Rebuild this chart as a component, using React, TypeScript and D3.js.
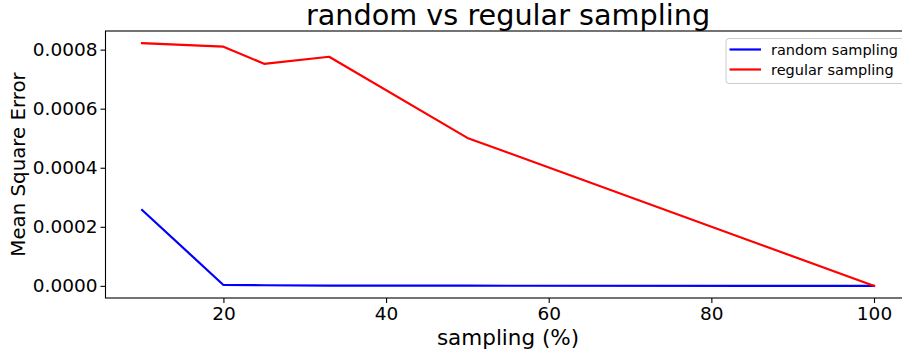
import React, { useEffect, useRef } from "react";
import * as d3 from "d3";

// Sampling rates (%) and the mean square error of each reconstruction
const samplingPct = [10, 20, 25, 33, 50, 100];
const randomMSE = [0.000257, 0.000003, 0.000002, 0.000001, 0.0000005, 0];
const regularMSE = [0.000822, 0.00081, 0.000752, 0.000776, 0.000501, 0];

const xTicks = [20, 40, 60, 80, 100];
const yTicks = [0, 0.0002, 0.0004, 0.0006, 0.0008];

const seriesNames = ["random sampling", "regular sampling"];
const seriesColors = ["#0000ff", "#ff0000"];

const W = 902;
const H = 353;
const FONT = "DejaVu Sans, sans-serif";

export default function App() {
  const ref = useRef<SVGSVGElement | null>(null);

  useEffect(() => {
    const svg = d3.select(ref.current);
    svg.selectAll("*").remove();

    const left = 105.5;
    const right = 910.6;
    const top = 31;
    const bottom = 298;

    const xMin = d3.min(samplingPct)!;
    const xMax = d3.max(samplingPct)!;
    const xPad = (xMax - xMin) * 0.05;
    const yAll = [...randomMSE, ...regularMSE];
    const yMin = d3.min(yAll)!;
    const yMax = d3.max(yAll)!;
    const yPad = (yMax - yMin) * 0.05;

    const x = d3.scaleLinear().domain([xMin - xPad, xMax + xPad]).range([left, right]);
    const y = d3.scaleLinear().domain([yMin - yPad, yMax + yPad]).range([bottom, top]);

    const g = svg.append("g");

    // series lines
    const series = [randomMSE, regularMSE];
    series.forEach((vals, i) => {
      const line = d3
        .line<number>()
        .x((_, j) => x(samplingPct[j]))
        .y((d) => y(d));
      g.append("path")
        .datum(vals)
        .attr("d", line)
        .attr("fill", "none")
        .attr("stroke", seriesColors[i])
        .attr("stroke-width", 2.2)
        .attr("stroke-linejoin", "round")
        .attr("stroke-linecap", "square");
    });

    // spines
    g.append("rect")
      .attr("x", left)
      .attr("y", top)
      .attr("width", right - left)
      .attr("height", bottom - top)
      .attr("fill", "none")
      .attr("stroke", "#000")
      .attr("stroke-width", 1.1);

    // x axis
    const xAxis = d3
      .axisBottom(x)
      .tickValues(xTicks)
      .tickSize(5)
      .tickPadding(3.5)
      .tickFormat((d) => String(d));
    const gx = g.append("g").attr("transform", `translate(0,${bottom})`).call(xAxis);
    gx.select(".domain").remove();
    gx.selectAll("line").attr("stroke", "#000").attr("stroke-width", 1.1);
    gx.selectAll("text")
      .attr("font-family", FONT)
      .attr("font-size", 18.5)
      .attr("fill", "#000");

    // y axis
    const yAxis = d3
      .axisLeft(y)
      .tickValues(yTicks)
      .tickSize(5)
      .tickPadding(3)
      .tickFormat(d3.format(".4f"));
    const gy = g.append("g").attr("transform", `translate(${left},0)`).call(yAxis);
    gy.select(".domain").remove();
    gy.selectAll("line").attr("stroke", "#000").attr("stroke-width", 1.1);
    gy.selectAll("text")
      .attr("font-family", FONT)
      .attr("font-size", 18.5)
      .attr("fill", "#000");

    // title and axis labels
    const cx = (left + right) / 2;
    svg.append("text")
      .attr("x", cx)
      .attr("y", 25)
      .attr("text-anchor", "middle")
      .attr("font-family", FONT)
      .attr("font-size", 28.7)
      .text("random vs regular sampling");

    svg.append("text")
      .attr("x", cx)
      .attr("y", 345)
      .attr("text-anchor", "middle")
      .attr("font-family", FONT)
      .attr("font-size", 21.5)
      .text("sampling (%)");

    svg.append("text")
      .attr("transform", `translate(25,${(top + bottom) / 2}) rotate(-90)`)
      .attr("text-anchor", "middle")
      .attr("font-family", FONT)
      .attr("font-size", 19.8)
      .text("Mean Square Error");

    // legend
    const lg = svg.append("g");
    lg.append("rect")
      .attr("x", 726)
      .attr("y", 38.5)
      .attr("width", 178)
      .attr("height", 45)
      .attr("rx", 3)
      .attr("fill", "#fff")
      .attr("fill-opacity", 0.8)
      .attr("stroke", "#ccc")
      .attr("stroke-width", 1);
    seriesNames.forEach((name, i) => {
      const ly = 49.5 + i * 20;
      lg.append("line")
        .attr("x1", 729.5)
        .attr("x2", 761)
        .attr("y1", ly)
        .attr("y2", ly)
        .attr("stroke", seriesColors[i])
        .attr("stroke-width", 2.2);
      lg.append("text")
        .attr("x", 771)
        .attr("y", ly + 5.3)
        .attr("font-family", FONT)
        .attr("font-size", 14.5)
        .attr("fill", "#000")
        .text(name);
    });
  }, []);

  return (
    <svg
      ref={ref}
      width={W}
      height={H}
      style={{ position: "absolute", left: 0, top: 0, background: "#fff" }}
    />
  );
}
